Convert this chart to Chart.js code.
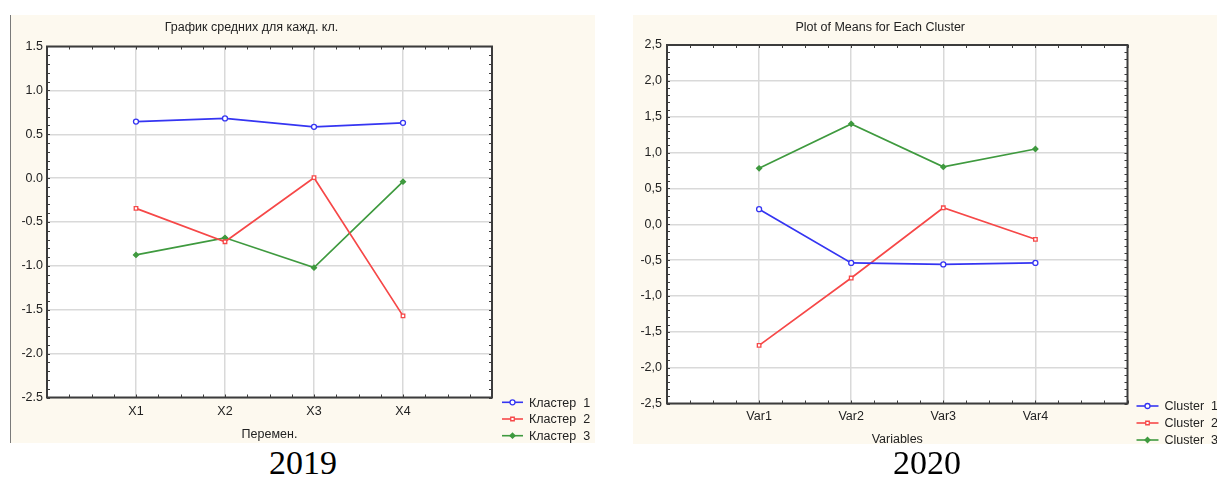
<!DOCTYPE html>
<html>
<head>
<meta charset="utf-8">
<script src="https://cdn.jsdelivr.net/npm/chart.js@4.4.1/dist/chart.umd.min.js"></script>
<style>
  html, body { margin: 0; padding: 0; background: #fff; width: 1217px; height: 482px; overflow: hidden; }
  .panel { position: absolute; background: #fdf9ef; }
  #p2019 { left: 10px; top: 15px; width: 584px; height: 428px; border-left: 1px solid #7a7a7a; }
  #p2020 { left: 633px; top: 15px; width: 584px; height: 429px; }
  .box { position: absolute; }
  #box2019 { left: 11px; top: 15px; }
  #box2020 { left: 633px; top: 15px; }
  .caption { position: absolute; width: 200px; text-align: center; font-family: 'Liberation Serif', 'Times New Roman', serif; font-size: 34px; line-height: 34px; color: #000; }
  #cap2019 { left: 203px; top: 446px; }
  #cap2020 { left: 827px; top: 446px; }
</style>
</head>
<body>
<div class="panel" id="p2019"></div>
<div class="panel" id="p2020"></div>
<div class="box" id="box2019"><canvas id="chart2019" width="594" height="428"></canvas></div>
<div class="box" id="box2020"><canvas id="chart2020" width="591" height="432"></canvas></div>
<div class="caption" id="cap2019">2019</div>
<div class="caption" id="cap2020">2020</div>

<script>
// 2019
const categories2019 = ['X1', 'X2', 'X3', 'X4'];
const cluster1_2019 = [0.645, 0.68, 0.585, 0.63];
const cluster2_2019 = [-0.345, -0.725, 0.005, -1.57];
const cluster3_2019 = [-0.875, -0.68, -1.02, -0.04];
const labels2019 = ['Кластер  1', 'Кластер  2', 'Кластер  3'];
const yTicks2019 = [-2.5, -2.0, -1.5, -1.0, -0.5, 0.0, 0.5, 1.0, 1.5];

// 2020
const categories2020 = ['Var1', 'Var2', 'Var3', 'Var4'];
const cluster1_2020 = [0.21, -0.54, -0.56, -0.54];
const cluster2_2020 = [-1.69, -0.75, 0.23, -0.21];
const cluster3_2020 = [0.78, 1.40, 0.80, 1.05];
const labels2020 = ['Cluster  1', 'Cluster  2', 'Cluster  3'];
const yTicks2020 = [-2.5, -2.0, -1.5, -1.0, -0.5, 0.0, 0.5, 1.0, 1.5, 2.0, 2.5];

const colors = ['#3535f2', '#f64848', '#3f9a3f'];
const markers = ['circle', 'rect', 'rectRot'];
const FONT = "'Liberation Sans', Arial, sans-serif";
const TEXT = '#222';
const GRID = '#d9d9d9';

// white plot area, frame and little inner ticks like Statistica
const framePlugin = {
    id: 'frame',
    beforeDatasetsDraw(chart) {
        const { ctx, chartArea: a, scales } = chart;
        ctx.save();
        ctx.strokeStyle = '#3c3c3c';
        ctx.lineWidth = 1;
        const y = scales.y;
        for (let v = y.min; v <= y.max + 1e-9; v += 0.1) {
            const py = Math.round(y.getPixelForValue(v)) + 0.5;
            ctx.beginPath();
            ctx.moveTo(a.left, py); ctx.lineTo(a.left + 3, py);
            ctx.moveTo(a.right - 3, py); ctx.lineTo(a.right, py);
            ctx.stroke();
        }
        const x = scales.x;
        for (let v = x.min; v <= x.max + 1e-9; v += 0.25) {
            const px = Math.round(x.getPixelForValue(v)) + 0.5;
            ctx.beginPath();
            ctx.moveTo(px, a.top); ctx.lineTo(px, a.top + 3);
            ctx.moveTo(px, a.bottom - 3); ctx.lineTo(px, a.bottom);
            ctx.stroke();
        }
        ctx.lineWidth = 2;
        ctx.strokeRect(a.left, a.top, a.right - a.left, a.bottom - a.top);
        ctx.restore();
    },
    beforeDraw(chart) {
        const { ctx, chartArea: a } = chart;
        ctx.save();
        ctx.fillStyle = '#ffffff';
        ctx.fillRect(a.left, a.top, a.right - a.left, a.bottom - a.top);
        ctx.restore();
    }
};

// legend below-right of the plot with line + marker
const sideLegend = {
    id: 'sideLegend',
    afterDraw(chart, args, opts) {
        const { ctx, chartArea: a } = chart;
        ctx.save();
        ctx.font = '12.5px ' + FONT;
        ctx.textBaseline = 'middle';
        chart.data.datasets.forEach((ds, i) => {
            const x0 = a.right + opts.dx;
            const y0 = a.bottom + opts.dy + i * opts.gap;
            ctx.strokeStyle = ds.borderColor;
            ctx.lineWidth = 1.6;
            ctx.beginPath();
            ctx.moveTo(x0, y0); ctx.lineTo(x0 + opts.len, y0);
            ctx.stroke();
            ctx.fillStyle = ds.pointBackgroundColor;
            ctx.lineWidth = 1.3;
            Chart.helpers.drawPoint(ctx, { pointStyle: ds.pointStyle, radius: 2.5, rotation: 0, borderWidth: 1.3 }, x0 + opts.len / 2, y0);
            ctx.fillStyle = TEXT;
            ctx.fillText(ds.label, x0 + opts.len + 6, y0 + 1);
        });
        ctx.restore();
    }
};

function makeChart(id, s) {
    const n = s.categories.length;
    const datasets = s.series.map((vals, i) => ({
        label: s.labels[i],
        data: vals.map((v, k) => ({ x: k + 1, y: v })),
        borderColor: colors[i],
        borderWidth: 1.7,
        pointStyle: markers[i],
        pointRadius: 2.5,
        pointBorderWidth: 1.3,
        pointBorderColor: colors[i],
        pointBackgroundColor: markers[i] === 'rectRot' ? colors[i] : '#ffffff',
        tension: 0
    }));

    return new Chart(document.getElementById(id), {
        type: 'line',
        data: { datasets: datasets },
        plugins: [framePlugin, sideLegend],
        options: {
            responsive: false,
            animation: false,
            layout: { padding: { left: 0, top: 0, right: s.padRight, bottom: 0 } },
            scales: {
                x: {
                    type: 'linear',
                    min: 0,
                    max: n + 1,
                    afterFit: sc => { sc.height = s.xHeight; },
                    border: { display: false },
                    grid: {
                        drawTicks: false,
                        lineWidth: 1.5,
                        color: ctx => (ctx.tick && ctx.tick.value >= 1 && ctx.tick.value <= n) ? GRID : 'rgba(0,0,0,0)'
                    },
                    ticks: {
                        stepSize: 1,
                        autoSkip: false,
                        padding: s.xPad,
                        color: TEXT,
                        font: { family: FONT, size: 12.5 },
                        callback: v => s.categories[v - 1] || ''
                    },
                    title: {
                        display: true,
                        text: s.xTitle,
                        color: TEXT,
                        font: { family: FONT, size: 12.5 },
                        padding: { top: 0, bottom: s.xTitlePad }
                    }
                },
                y: {
                    min: s.yTicks[0],
                    max: s.yTicks[s.yTicks.length - 1],
                    afterFit: sc => { sc.width = s.yWidth; },
                    border: { display: false },
                    grid: { drawTicks: false, lineWidth: 1.5, color: GRID },
                    ticks: {
                        stepSize: s.yTicks[1] - s.yTicks[0],
                        padding: s.yPad,
                        color: TEXT,
                        font: { family: FONT, size: 12.5 },
                        callback: v => s.comma ? v.toFixed(1).replace('.', ',') : v.toFixed(1)
                    }
                }
            },
            plugins: {
                legend: { display: false },
                tooltip: { enabled: false },
                title: {
                    display: true,
                    text: s.title,
                    color: TEXT,
                    font: { family: FONT, size: 12.5, weight: 'normal' },
                    padding: { top: s.titleTop, bottom: s.titleBottom }
                },
                sideLegend: s.legend
            }
        }
    });
}

makeChart('chart2019', {
    categories: categories2019,
    series: [cluster1_2019, cluster2_2019, cluster3_2019],
    labels: labels2019,
    yTicks: yTicks2019,
    comma: false,
    title: 'График средних для кажд. кл.',
    xTitle: 'Перемен.',
    padRight: 113,
    yWidth: 36,
    yPad: 4,
    xHeight: 45.5,
    xPad: 6.5,
    xTitlePad: 1.2,
    titleTop: 5.5,
    titleBottom: 11,
    legend: { dx: 10, dy: 4.8, gap: 16.7, len: 21 }
});

makeChart('chart2020', {
    categories: categories2020,
    series: [cluster1_2020, cluster2_2020, cluster3_2020],
    labels: labels2020,
    yTicks: yTicks2020,
    comma: true,
    title: 'Plot of Means for Each Cluster',
    xTitle: 'Variables',
    padRight: 96.5,
    yWidth: 34,
    yPad: 5,
    xHeight: 43.5,
    xPad: 5.7,
    xTitlePad: 0.2,
    titleTop: 4.8,
    titleBottom: 10.2,
    legend: { dx: 9, dy: 2.5, gap: 17, len: 22 }
});
</script>
</body>
</html>
